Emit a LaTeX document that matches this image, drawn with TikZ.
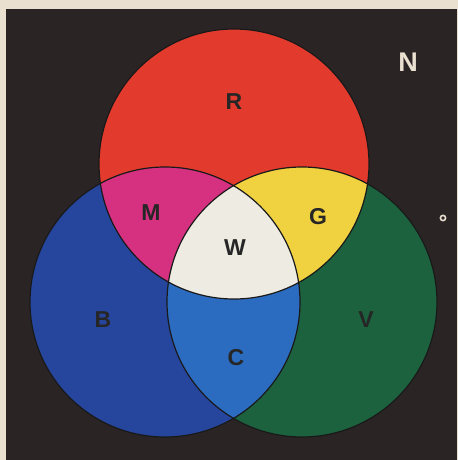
\documentclass[tikz,border=0pt]{standalone}
\usepackage{fontspec}
\setmainfont{Liberation Sans}
\definecolor{PaperTone}{RGB}{234,224,208}
\definecolor{NightGround}{RGB}{42,36,37}
\definecolor{LampRed}{RGB}{226,58,44}
\definecolor{LampBlue}{RGB}{38,70,158}
\definecolor{LampGreen}{RGB}{28,98,62}
\definecolor{MixMagenta}{RGB}{214,48,128}
\definecolor{MixYellow}{RGB}{240,210,64}
\definecolor{MixCyan}{RGB}{44,108,192}
\definecolor{MixWhite}{RGB}{238,235,226}
\tikzset{
  rim/.style={draw=black!90,line width=0.6pt},
  letter/.style={font=\fontsize{11.5}{13}\selectfont\bfseries,text=black!85,inner sep=0pt},
  bigletter/.style={font=\fontsize{13.5}{15}\selectfont\bfseries,text=PaperTone,inner sep=0pt}
}
\begin{document}
\begin{tikzpicture}[x=0.5pt,y=-0.5pt]
  % paper and dark card
  \fill[PaperTone] (0,0) rectangle (458,460);
  \fill[NightGround] (6,9) rectangle (457,460);
  \coordinate (cr) at (234,164);
  \coordinate (cb) at (165,302);
  \coordinate (cg) at (302,302);
  % the three lamps
  \fill[LampRed] (cr) circle (135);
  \fill[LampBlue] (cb) circle (135);
  \fill[LampGreen] (cg) circle (135);
  % pairs
  \begin{scope}
    \clip (cr) circle (135);
    \fill[MixMagenta] (cb) circle (135);
    \fill[MixYellow] (cg) circle (135);
  \end{scope}
  \begin{scope}
    \clip (cb) circle (135);
    \fill[MixCyan] (cg) circle (135);
    \clip (cg) circle (135);
    \fill[MixWhite] (cr) circle (135);
  \end{scope}
  \foreach \c in {cr,cb,cg}{
    \draw[rim] (\c) circle (135);
  }
  % labels
  \node[letter] (red) at (234,102) {R};
  \node[letter] (magenta) at (151,213) {M};
  \node[letter] (yellow) at (318,217) {G};
  \node[letter] (white) at (235,248) {W};
  \node[letter] (blue) at (103,320) {B};
  \node[letter] (green) at (366,320) {V};
  \node[letter] (cyan) at (236,358) {C};
  \node[bigletter] (black) at (408,62) {N};
  \draw[PaperTone,line width=0.8pt] (443,218) circle (2.6);
\end{tikzpicture}
\end{document}
